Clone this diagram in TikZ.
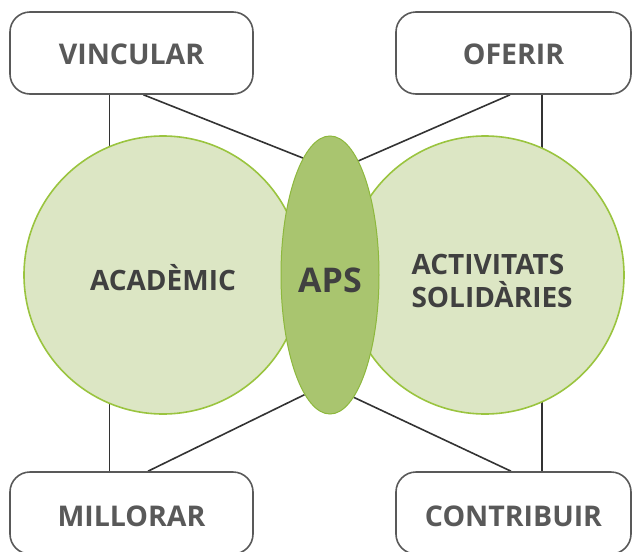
\documentclass[tikz,border=0pt]{standalone}
\usepackage{fontspec}
\setmainfont{Open Sans}
\usetikzlibrary{shapes.geometric,backgrounds}
\definecolor{boxgray}{HTML}{595959}
\definecolor{txtgray}{HTML}{404040}
\definecolor{linegray}{HTML}{333333}
\definecolor{circfill}{HTML}{DCE6C4}
\definecolor{circline}{HTML}{9AC43F}
\definecolor{apsfill}{HTML}{A9C56F}
\definecolor{apsline}{HTML}{8DB83D}
\tikzset{
  box/.style={draw=boxgray, line width=1.6pt, rounded corners=20pt, fill=white,
    minimum height=82pt, inner sep=0pt, text=boxgray,
    font=\bfseries\fontsize{28.5}{33}\selectfont},
  bigcirc/.style={circle, draw=circline, line width=1.6pt, fill=circfill,
    minimum size=278pt, inner sep=0pt, text=txtgray,
    font=\bfseries\fontsize{28}{33}\selectfont},
  link/.style={draw=linegray, line width=1.6pt}
}
\newcommand{\lowered}[2]{\raisebox{#1}[0pt][0pt]{#2}}
\begin{document}
\begin{tikzpicture}[x=1pt,y=-1pt]
\useasboundingbox (0,0) rectangle (633,552);
%circles
\node[bigcirc] (acad) at (163,275) {\lowered{-15pt}{ACADÈMIC}};
\node[bigcirc] (activ) at (485,275) {\hspace*{16pt}\lowered{1pt}{\parbox[t]{163pt}{ACTIVITATS\\SOLIDÀRIES}}};
\node[ellipse, draw=apsline, line width=1pt, fill=apsfill, minimum width=98pt,
  minimum height=278pt, inner sep=0pt, text=txtgray,
  font=\bfseries\fontsize{34}{38}\selectfont] (aps) at (330,275) {\lowered{-17pt}{APS}};
%boxes
\node[box, minimum width=243pt] (vincular) at (131.5,53) {\lowered{-11pt}{VINCULAR}};
\node[box, minimum width=235pt] (oferir) at (513.5,53) {\lowered{-11pt}{OFERIR}};
\node[box, minimum width=243pt] (millorar) at (131.5,513) {\lowered{-13pt}{MILLORAR}};
\node[box, minimum width=235pt] (contrib) at (513.5,513) {\lowered{-13pt}{CONTRIBUIR}};
%links
\begin{pgfonlayer}{background}
\draw[link] ([xshift=-22pt]vincular.south) -- ([xshift=-22pt]vincular.south |- acad.center);
\draw[link] ([xshift=12pt]vincular.south) -- (aps.103.5);
\draw[link] ([xshift=28.5pt]oferir.south) -- ([xshift=28.5pt]oferir.south |- activ.center);
\draw[link] ([xshift=-3.5pt]oferir.south) -- (aps.76);
\draw[link] ([xshift=-22pt]millorar.north) -- ([xshift=-22pt]millorar.north |- acad.center);
\draw[link] ([xshift=16.5pt]millorar.north) -- (aps.258);
\draw[link] ([xshift=28.5pt]contrib.north) -- ([xshift=28.5pt]contrib.north |- activ.center);
\draw[link] ([xshift=-2.5pt]contrib.north) -- (aps.281);
\end{pgfonlayer}
\end{tikzpicture}
\end{document}
